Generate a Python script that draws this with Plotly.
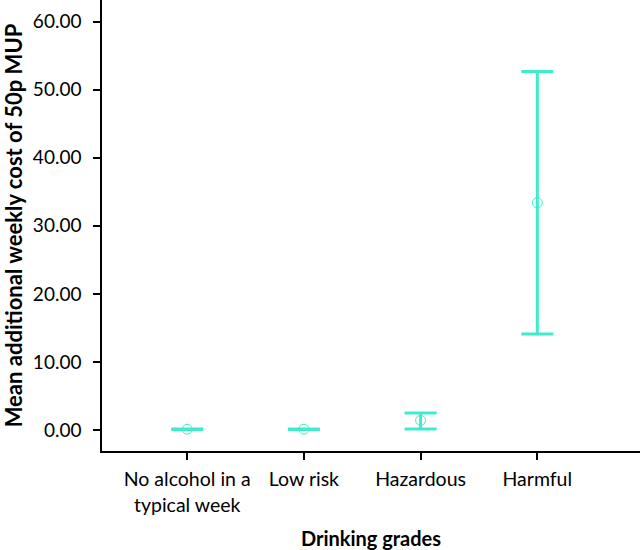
import plotly.graph_objects as go

categories = ["No alcohol in a<br>typical week", "Low risk", "Hazardous", "Harmful"]
means = [0.1, 0.1, 1.4, 33.4]
upper = [0.15, 0.15, 2.5, 52.7]
lower = [0.05, 0.05, 0.15, 14.1]

err_plus = [u - m for u, m in zip(upper, means)]
err_minus = [m - l for m, l in zip(means, lower)]

color = "#3EEBCB"
font_family = "Lato, 'Open Sans', sans-serif"

fig = go.Figure()
fig.add_trace(go.Scatter(
    x=categories, y=means, mode="markers",
    marker=dict(symbol="circle-open", size=10, color=color, line=dict(width=1, color=color)),
    error_y=dict(type="data", symmetric=False, array=err_plus, arrayminus=err_minus,
                 color=color, thickness=3, width=16),
    showlegend=False,
))

fig.update_layout(
    width=640, height=550,
    margin=dict(l=102, r=0, t=0, b=99),
    plot_bgcolor="white", paper_bgcolor="white",
    font=dict(family=font_family, size=19, color="black"),
)
fig.update_xaxes(
    range=[-0.73, 3.88], showline=True, linecolor="black", linewidth=1.5,
    ticks="outside", ticklen=7, tickwidth=1.5, tickcolor="black",
    showgrid=False, zeroline=False, automargin=False, ticklabelstandoff=3,
    title=dict(text="<b>Drinking grades</b>", font=dict(size=20), standoff=18),
    tickfont=dict(size=19.5),
)
fig.update_yaxes(
    range=[-3.1, 63.2], showline=True, linecolor="black", linewidth=1.5,
    ticks="outside", ticklen=7, tickwidth=1.5, tickcolor="black",
    showgrid=False, zeroline=False, tickformat=".2f", dtick=10, automargin=False,
    ticklabelstandoff=8,
    title=dict(text="<b>Mean additional weekly cost of 50p MUP</b>", font=dict(size=22), standoff=4),
    tickfont=dict(size=19),
)

fig.write_html("out.html", config={"displayModeBar": False},
               post_script="document.body.style.margin='0';document.body.style.overflow='hidden';")
